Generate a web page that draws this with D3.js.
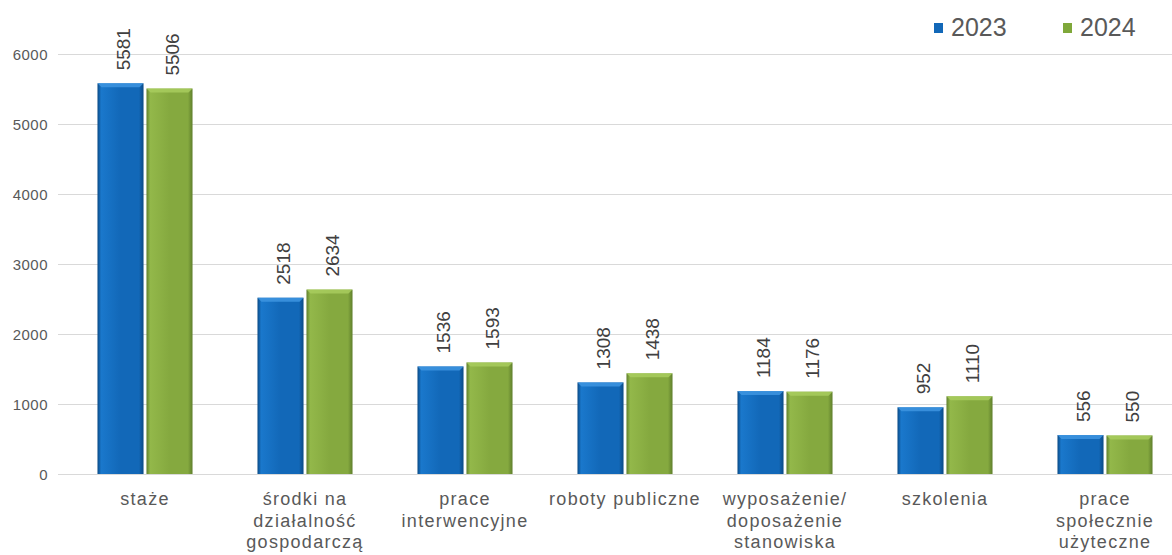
<!DOCTYPE html>
<html>
<head>
<meta charset="utf-8">
<script src="https://cdn.jsdelivr.net/npm/d3@7"></script>
<style>
  body { margin: 0; background: #fff; }
  svg text { font-family: "Liberation Sans", Arial, sans-serif; }
</style>
</head>
<body>
<svg id="chart"></svg>
<script>
// data
const categories = [
  ["staże"],
  ["środki na", "działalność", "gospodarczą"],
  ["prace", "interwencyjne"],
  ["roboty publiczne"],
  ["wyposażenie/", "doposażenie", "stanowiska"],
  ["szkolenia"],
  ["prace", "społecznie", "użyteczne"]
];
const years = ["2023", "2024"];
const values2023 = [5581, 2518, 1536, 1308, 1184, 952, 556];
const values2024 = [5506, 2634, 1593, 1438, 1176, 1110, 550];
const yTicks = [0, 1000, 2000, 3000, 4000, 5000, 6000];

const W = 1172, H = 555;
const yBase = 474, yTop = 54;

const svg = d3.select("#chart")
  .attr("width", W)
  .attr("height", H);

const defs = svg.append("defs");

// bevel-ish gradients
const makeGrad = (id, edge, mid, light) => {
  const g = defs.append("linearGradient")
    .attr("id", id)
    .attr("x1", "0%").attr("x2", "100%")
    .attr("y1", "0%").attr("y2", "0%");
  g.append("stop").attr("offset", "0%").attr("stop-color", edge);
  g.append("stop").attr("offset", "8%").attr("stop-color", light);
  g.append("stop").attr("offset", "50%").attr("stop-color", mid);
  g.append("stop").attr("offset", "90%").attr("stop-color", mid);
  g.append("stop").attr("offset", "100%").attr("stop-color", edge);
};
makeGrad("g2023", "#0b4a85", "#1268b8", "#1a78cc");
makeGrad("g2024", "#5f7f2c", "#85a93f", "#93b84a");

const colors = { "2023": "url(#g2023)", "2024": "url(#g2024)" };
const topColors = { "2023": "#3e95e0", "2024": "#a8cc5e" };
const legendColors = { "2023": "#1268b8", "2024": "#7fa83a" };

const x0 = d3.scaleBand()
  .domain(d3.range(categories.length))
  .range([65, 1185])
  .paddingInner(0.406)
  .paddingOuter(0.203);

const x1 = d3.scaleBand()
  .domain(years)
  .range([0, x0.bandwidth()])
  .paddingInner(0.06);

const y = d3.scaleLinear()
  .domain([0, 6000])
  .range([yBase, yTop]);

// gridlines
svg.append("g")
  .selectAll("line")
  .data(yTicks)
  .enter().append("line")
  .attr("x1", 58)
  .attr("x2", W)
  .attr("y1", d => Math.round(y(d)) + 0.5)
  .attr("y2", d => Math.round(y(d)) + 0.5)
  .attr("stroke", "#d9d9d9")
  .attr("stroke-width", 1);

// y axis labels
svg.append("g")
  .selectAll("text")
  .data(yTicks)
  .enter().append("text")
  .attr("x", 48)
  .attr("y", d => y(d) + 5.5)
  .attr("text-anchor", "end")
  .attr("font-size", 15)
  .attr("letter-spacing", 0.5)
  .attr("fill", "#595959")
  .text(d => d);

// bars
const rows = categories.map((c, i) => ({
  i: i,
  vals: [
    { year: "2023", v: values2023[i] },
    { year: "2024", v: values2024[i] }
  ]
}));

const groups = svg.append("g")
  .selectAll("g")
  .data(rows)
  .enter().append("g")
  .attr("transform", d => "translate(" + x0(d.i) + ",0)");

const bars = groups.selectAll("g.bar")
  .data(d => d.vals)
  .enter().append("g")
  .attr("class", "bar");

bars.append("rect")
  .attr("x", d => x1(d.year))
  .attr("y", d => y(d.v))
  .attr("width", x1.bandwidth())
  .attr("height", d => yBase - y(d.v))
  .attr("fill", d => colors[d.year]);

// light top bevel
bars.append("path")
  .attr("d", d => {
    const xl = x1(d.year), xr = xl + x1.bandwidth(), yt = y(d.v);
    return "M" + xl + "," + yt + "L" + xr + "," + yt +
      "L" + (xr - 4) + "," + (yt + 4) + "L" + (xl + 4) + "," + (yt + 4) + "Z";
  })
  .attr("fill", d => topColors[d.year])
  .attr("opacity", 0.85);

// value labels, rotated
bars.append("text")
  .attr("transform", d => {
    const cx = x1(d.year) + x1.bandwidth() / 2 + 9.5;
    const cy = y(d.v) - 13;
    return "translate(" + cx + "," + cy + ") rotate(-90)";
  })
  .attr("font-size", 19)
  .attr("fill", "#404040")
  .text(d => d.v);

// category labels
const catLabels = svg.append("g")
  .selectAll("text")
  .data(categories)
  .enter().append("text")
  .attr("x", (d, i) => x0(i) + x0.bandwidth() / 2)
  .attr("y", 505)
  .attr("text-anchor", "middle")
  .attr("font-size", 18)
  .attr("letter-spacing", 1.3)
  .attr("fill", "#595959");

catLabels.selectAll("tspan")
  .data(d => d)
  .enter().append("tspan")
  .attr("x", function() { return d3.select(this.parentNode).attr("x"); })
  .attr("dy", (d, j) => j === 0 ? 0 : 21.5)
  .text(d => d);

// legend
const legendPos = [934, 1063];
const legend = svg.append("g")
  .selectAll("g")
  .data(years)
  .enter().append("g")
  .attr("transform", (d, i) => "translate(" + legendPos[i] + ",0)");

legend.append("rect")
  .attr("x", 0)
  .attr("y", 23)
  .attr("width", 9)
  .attr("height", 10)
  .attr("fill", d => legendColors[d]);

legend.append("text")
  .attr("x", 17)
  .attr("y", 36)
  .attr("font-size", 25)
  .attr("fill", "#595959")
  .text(d => d);
</script>
</body>
</html>
